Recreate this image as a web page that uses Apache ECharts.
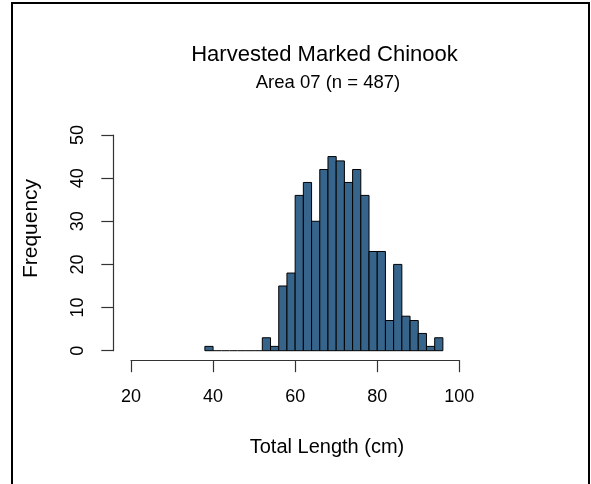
<!DOCTYPE html>
<html>
<head>
<meta charset="utf-8">
<script src="https://cdn.jsdelivr.net/npm/echarts@6/dist/echarts.min.js"></script>
<style>
  html, body { margin: 0; padding: 0; background: #fff; }
  #chart { width: 591px; height: 484px; }
</style>
</head>
<body>
<div id="chart"></div>
<script>
// Histogram bins (cm): left edges, right edges, counts
const binStart = [38, 40, 42, 44, 46, 48, 50, 52, 54, 56, 58, 60, 62, 64, 66, 68, 70, 72, 74, 76, 78, 80, 82, 84, 86, 88, 90, 92, 94];
const binEnd   = [40, 42, 44, 46, 48, 50, 52, 54, 56, 58, 60, 62, 64, 66, 68, 70, 72, 74, 76, 78, 80, 82, 84, 86, 88, 90, 92, 94, 96];
const counts   = [1, 0, 0, 0, 0, 0, 0, 3, 1, 15, 18, 36, 39, 30, 42, 45, 44, 39, 42, 36, 23, 23, 7, 20, 8, 7, 4, 1, 3];
const xTicks = [20, 40, 60, 80, 100];
const yTicks = [0, 10, 20, 30, 40, 50];

const titleText = 'Harvested Marked Chinook';
const subText = 'Area 07 (n = 487)';
const xName = 'Total Length (cm)';
const yName = 'Frequency';

const FONT = '"Liberation Sans", Arial, sans-serif';
const barColor = '#36648B';

const data = binStart.map((s, i) => [s, binEnd[i], counts[i]]);

const chart = echarts.init(document.getElementById('chart'), null, { renderer: 'canvas' });
chart.setOption({
  animation: false,
  backgroundColor: '#fff',
  graphic: [
    { type: 'rect', shape: { x: 12, y: 3, width: 577, height: 495 },
      style: { fill: 'none', stroke: '#000', lineWidth: 2 }, silent: true, z: 100 },
    { type: 'text', x: 324.5, y: 55, silent: true,
      style: { text: titleText, font: '22px ' + FONT, fill: '#000', textAlign: 'center', textVerticalAlign: 'middle' } },
    { type: 'text', x: 328, y: 83, silent: true,
      style: { text: subText, font: '18.5px ' + FONT, fill: '#000', textAlign: 'center', textVerticalAlign: 'middle' } },
    { type: 'text', x: 327, y: 447, silent: true,
      style: { text: xName, font: '20px ' + FONT, fill: '#000', textAlign: 'center', textVerticalAlign: 'middle' } },
    { type: 'text', x: 31, y: 228.5, rotation: Math.PI / 2, silent: true,
      style: { text: yName, font: '21px ' + FONT, fill: '#000', textAlign: 'center', textVerticalAlign: 'middle' } }
  ],
  grid: { left: 131, right: 131.7, top: 135, bottom: 133.3, containLabel: false },
  xAxis: {
    type: 'value', min: xTicks[0], max: xTicks[xTicks.length - 1], interval: 20,
    offset: 9.5,
    axisLine: { show: true, onZero: false, lineStyle: { color: '#333', width: 1.2 } },
    axisTick: { show: true, length: 12, lineStyle: { color: '#333', width: 1.2 } },
    axisLabel: { margin: 28, fontFamily: FONT, fontSize: 18, color: '#000' },
    splitLine: { show: false }
  },
  yAxis: {
    type: 'value', min: yTicks[0], max: yTicks[yTicks.length - 1], interval: 10,
    offset: 17.7,
    axisLine: { show: true, onZero: false, lineStyle: { color: '#333', width: 1.2 } },
    axisTick: { show: true, length: 12, lineStyle: { color: '#333', width: 1.2 } },
    axisLabel: { margin: 26, rotate: 90, fontFamily: FONT, fontSize: 18, color: '#000' },
    splitLine: { show: false }
  },
  series: [{
    type: 'custom',
    data: data,
    encode: { x: [0, 1], y: 2 },
    clip: false,
    renderItem: function (params, api) {
      const x0 = api.value(0), x1 = api.value(1), c = api.value(2);
      const p0 = api.coord([x0, 0]);
      const p1 = api.coord([x1, c]);
      if (c === 0) {
        return { type: 'line', shape: { x1: p0[0], y1: p0[1], x2: p1[0], y2: p0[1] },
                 style: { stroke: '#000', lineWidth: 1 } };
      }
      return {
        type: 'rect',
        shape: { x: p0[0], y: p1[1], width: p1[0] - p0[0], height: p0[1] - p1[1] },
        style: { fill: barColor, stroke: '#000', lineWidth: 1 }
      };
    }
  }]
});
</script>
</body>
</html>
